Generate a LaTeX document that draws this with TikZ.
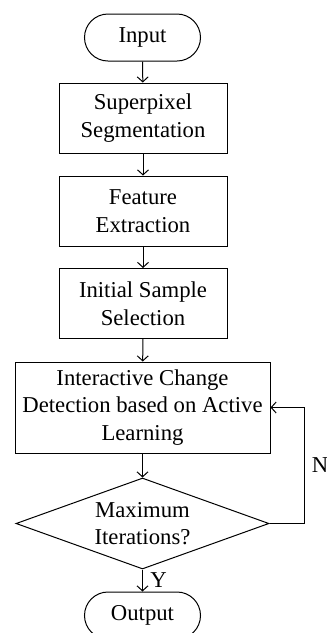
\documentclass[tikz,border=0pt]{standalone}
\usepackage{fontspec}
\setmainfont{Liberation Serif}
\usetikzlibrary{shapes.geometric,shapes.misc,arrows.meta}

\begin{document}
\begin{tikzpicture}[x=1pt,y=-1pt,
  font=\fontsize{22.7}{27.5}\selectfont,
  line width=1pt,
  terminal/.style={draw, rounded rectangle, minimum width=116pt, minimum height=47pt, inner sep=0pt},
  process/.style={draw, rectangle, align=center, minimum height=70pt, inner sep=0pt},
  decision/.style={draw, diamond, align=center, aspect=2.78, minimum width=253pt, minimum height=91pt, inner sep=0pt},
  arr/.style={-{Straight Barb[length=5pt,width=11pt]}}]
  \useasboundingbox (0,0) rectangle (327,633);

  % Blocks
  \node[terminal] (in) at (142.5,37.5) {Input};
  \node[process, minimum width=168pt] (sp) at (143,118) {Superpixel\\Segmentation};
  \node[process, minimum width=168pt] (fe) at (143,211) {Feature\\Extraction};
  \node[process, minimum width=168pt] (iss) at (143,303.5) {Initial Sample\\Selection};
  \node[process, minimum width=255pt, minimum height=91pt] (icd) at (142.5,407.5) {Interactive Change\\Detection based on Active\\Learning};
  \node[decision] (max) at (142.5,523.5) {Maximum\\Iterations?};
  \node[terminal] (out) at (142.5,615.5) {Output};

  % Arrows
  \draw[arr] (in) -- (sp);
  \draw[arr] (sp) -- (fe);
  \draw[arr] (fe) -- (iss);
  \draw[arr] (iss) -- (icd);
  \draw[arr] (icd) -- (max);
  \draw[arr] (max) -- node[right, xshift=4pt] {Y} (out);

  % Loop back
  \coordinate (bend) at (304,523.5);
  \draw[arr] (max.east) -- (bend) |- node[pos=0.25, right, xshift=4pt] {N} (icd.east);
\end{tikzpicture}
\end{document}
